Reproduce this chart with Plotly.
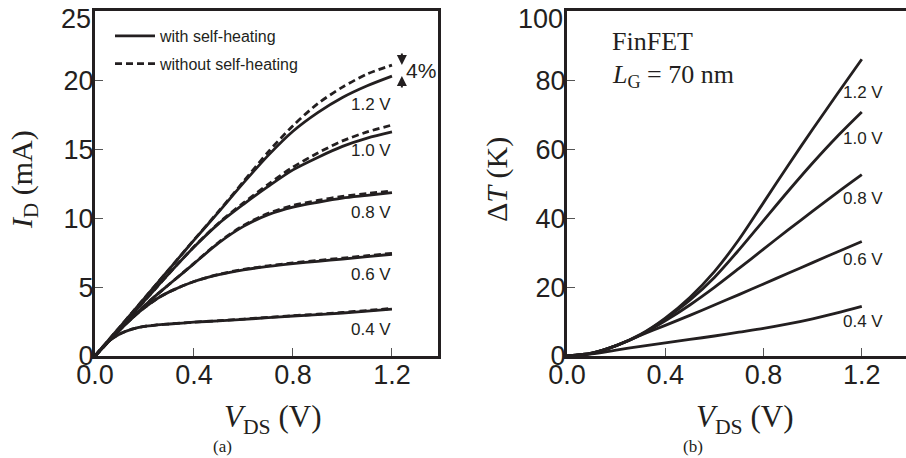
import plotly.graph_objects as go

# ---------------- data ----------------
# (a) drain current vs drain voltage, for several gate voltages
vds_a = [0, 0.05, 0.1, 0.15, 0.2, 0.25, 0.3, 0.4, 0.5, 0.6, 0.7, 0.8, 0.9, 1.0, 1.1, 1.2]
vgs_labels = ["0.4 V", "0.6 V", "0.8 V", "1.0 V", "1.2 V"]

id_with_sh = [
    [0, 1.0, 1.6, 1.95, 2.15, 2.25, 2.32, 2.45, 2.55, 2.66, 2.78, 2.9, 3.0, 3.12, 3.26, 3.4],
    [0, 0.95, 1.9, 2.75, 3.5, 4.15, 4.65, 5.4, 5.9, 6.25, 6.5, 6.7, 6.87, 7.03, 7.2, 7.38],
    [0, 0.95, 1.88, 2.78, 3.65, 4.45, 5.2, 6.7, 8.2, 9.4, 10.25, 10.8, 11.15, 11.45, 11.65, 11.85],
    [0, 1.0, 2.0, 3.0, 4.0, 5.0, 6.0, 7.9, 9.6, 11.0, 12.3, 13.5, 14.4, 15.2, 15.8, 16.25],
    [0, 1.05, 2.1, 3.15, 4.2, 5.25, 6.3, 8.4, 10.45, 12.55, 14.55, 16.3, 17.65, 18.75, 19.6, 20.3],
]
id_without_sh = [
    [0, 1.0, 1.6, 1.95, 2.15, 2.25, 2.32, 2.46, 2.56, 2.68, 2.8, 2.92, 3.03, 3.16, 3.3, 3.45],
    [0, 0.95, 1.9, 2.75, 3.5, 4.15, 4.65, 5.4, 5.92, 6.28, 6.54, 6.75, 6.93, 7.1, 7.27, 7.45],
    [0, 0.95, 1.88, 2.78, 3.65, 4.45, 5.2, 6.72, 8.25, 9.47, 10.35, 10.92, 11.28, 11.58, 11.78, 11.97],
    [0, 1.0, 2.0, 3.0, 4.0, 5.0, 6.0, 7.92, 9.65, 11.1, 12.45, 13.7, 14.72, 15.6, 16.25, 16.75],
    [0, 1.05, 2.1, 3.15, 4.2, 5.25, 6.3, 8.42, 10.5, 12.65, 14.8, 16.7, 18.3, 19.5, 20.45, 21.1],
]

# (b) temperature rise vs drain voltage
vds_b = [0, 0.1, 0.2, 0.3, 0.4, 0.5, 0.6, 0.7, 0.8, 0.9, 1.0, 1.1, 1.2]
delta_t = [
    [0, 0.6, 1.7, 2.8, 3.8, 4.8, 5.8, 6.9, 8.0, 9.3, 10.8, 12.5, 14.4],
    [0, 0.7, 3.0, 6.0, 8.9, 11.8, 14.8, 17.8, 20.9, 24.0, 27.1, 30.2, 33.2],
    [0, 0.8, 3.0, 6.1, 10.2, 14.8, 19.9, 25.4, 31.0, 36.6, 42.0, 47.4, 52.6],
    [0, 0.8, 3.0, 6.2, 10.8, 16.2, 22.8, 30.8, 39.3, 47.8, 56.0, 63.7, 70.8],
    [0, 0.8, 3.0, 6.3, 11.0, 17.0, 24.5, 33.8, 44.5, 55.3, 65.8, 76.0, 86.1],
]

x_ticks = [0.0, 0.4, 0.8, 1.2]
x_tick_text = ["0.0", "0.4", "0.8", "1.2"]
ya_ticks = [0, 5, 10, 15, 20, 25]
yb_ticks = [0, 20, 40, 60, 80, 100]

# ---------------- style ----------------
INK = "#231f20"
SANS = "Liberation Sans, Arial, sans-serif"
SERIF = "Liberation Serif, Times New Roman, serif"
W, H = 906, 458
LW = 2.8

fig = go.Figure()

for i, lab in enumerate(vgs_labels):
    fig.add_trace(go.Scatter(
        x=vds_a, y=id_without_sh[i], mode="lines",
        line=dict(color=INK, width=LW, dash="7px,4px", shape="spline", smoothing=0.8),
        name="without self-heating", legendgroup="nosh", showlegend=(i == 0),
        xaxis="x", yaxis="y", legendrank=2,
    ))
    fig.add_trace(go.Scatter(
        x=vds_a, y=id_with_sh[i], mode="lines",
        line=dict(color=INK, width=LW, shape="spline", smoothing=0.8),
        name="with self-heating", legendgroup="sh", showlegend=(i == 0),
        xaxis="x", yaxis="y", legendrank=1,
    ))

for i, lab in enumerate(vgs_labels):
    fig.add_trace(go.Scatter(
        x=vds_b, y=delta_t[i], mode="lines",
        line=dict(color=INK, width=LW, shape="spline", smoothing=0.8),
        showlegend=False, xaxis="x2", yaxis="y2",
    ))

annotations = []
# curve labels, panel (a)
shift_a = [-20, -20, -20, -19, -28]
for i, lab in enumerate(vgs_labels):
    annotations.append(dict(
        x=vds_a[-1], y=id_with_sh[i][-1], xref="x", yref="y", text=lab,
        showarrow=False, xanchor="right", yanchor="middle", xshift=1, yshift=shift_a[i],
        font=dict(family=SANS, size=17, color=INK),
    ))
# curve labels, panel (b)
shift_b = [-15, -18, -24, -27, -33]
for i, lab in enumerate(vgs_labels):
    annotations.append(dict(
        x=vds_b[-1], y=delta_t[i][-1], xref="x2", yref="y2", text=lab,
        showarrow=False, xanchor="center", yanchor="middle", xshift=1, yshift=shift_b[i],
        font=dict(family=SANS, size=17, color=INK),
    ))

# 4 % gap marker between the two 1.2 V curves
gap_x = 1.24
annotations += [
    dict(x=gap_x, y=id_without_sh[4][-1], xref="x", yref="y", ax=0, ay=-13,
         showarrow=True, arrowhead=2, arrowsize=1, arrowwidth=2, arrowcolor=INK, text=""),
    dict(x=gap_x, y=id_with_sh[4][-1], xref="x", yref="y", ax=0, ay=13,
         showarrow=True, arrowhead=2, arrowsize=1, arrowwidth=2, arrowcolor=INK, text=""),
    dict(x=gap_x, y=(id_with_sh[4][-1] + id_without_sh[4][-1]) / 2, xref="x", yref="y",
         text="4%", showarrow=False, xanchor="left", yanchor="middle", xshift=2,
         font=dict(family=SANS, size=21, color=INK)),
]

# top tick labels sit just inside the frame
TICKFONT = dict(family=SANS, size=27, color=INK)
annotations += [
    dict(x=0, y=ya_ticks[-1], xref="x", yref="y", text=str(ya_ticks[-1]), showarrow=False,
         xanchor="right", yanchor="middle", xshift=-2, yshift=-8, font=TICKFONT),
    dict(x=0, y=yb_ticks[-1], xref="x2", yref="y2", text=str(yb_ticks[-1]), showarrow=False,
         xanchor="right", yanchor="middle", xshift=-2, yshift=-8, font=TICKFONT),
]

def px(x):
    return x / W

def py(y):
    return 1 - y / H

def paper_text(x, y, text, size, angle=0, xanchor="center"):
    return dict(x=px(x), y=py(y), xref="paper", yref="paper", text=text,
                showarrow=False, textangle=angle, xanchor=xanchor, yanchor="middle",
                font=dict(family=SERIF, size=size, color=INK))

# axis titles, panel tags and device note
annotations += [
    paper_text(24, 180, "<i>I</i><sub>D</sub> (mA)", 30, angle=-90),
    paper_text(497, 180, "Δ<i>T</i> (K)", 30, angle=-90),
    paper_text(272, 419, "<i>V</i><sub>DS</sub> (V)", 31),
    paper_text(744, 419, "<i>V</i><sub>DS</sub> (V)", 31),
    paper_text(222, 446, "(a)", 17),
    paper_text(693, 446, "(b)", 17),
    paper_text(610, 42, "FinFET", 26, xanchor="left"),
    paper_text(610, 76, "<i>L</i><sub>G</sub> = 70 nm", 26, xanchor="left"),
]

axis_common = dict(
    showline=True, linecolor=INK, linewidth=3, showgrid=False, zeroline=False,
    ticks="inside", ticklen=8, tickwidth=1.3, tickcolor="#555555",
    tickfont=TICKFONT, automargin=False, ticklabelstandoff=-7,
)

top_y, bottom_y = 11, 356
fig.update_layout(
    width=W, height=H,
    margin=dict(l=0, r=0, t=0, b=0, autoexpand=False),
    paper_bgcolor="white", plot_bgcolor="white",
    xaxis=dict(domain=[px(95), px(438)], range=[0, 1.386], anchor="y",
               tickvals=x_ticks, ticktext=x_tick_text, mirror=True, **axis_common),
    yaxis=dict(domain=[py(bottom_y), py(top_y)], range=[0, 25.02], anchor="x",
               tickvals=ya_ticks, ticktext=[str(v) for v in ya_ticks[:-1]] + [""],
               mirror=True, **axis_common),
    xaxis2=dict(domain=[px(567), 1.0], range=[0, 1.38], anchor="y2",
                tickvals=x_ticks, ticktext=x_tick_text, mirror=True, **axis_common),
    yaxis2=dict(domain=[py(bottom_y), py(top_y)], range=[0, 100.1], anchor="x2",
                tickvals=yb_ticks, ticktext=[str(v) for v in yb_ticks[:-1]] + [""],
                mirror=False, **axis_common),
    showlegend=True,
    legend=dict(x=px(110), y=py(19), xanchor="left", yanchor="top",
                bgcolor="rgba(0,0,0,0)", borderwidth=0,
                font=dict(family=SANS, size=16, color=INK),
                tracegroupgap=4, itemwidth=40, traceorder="grouped"),
    annotations=annotations,
)

fig.write_html("out.html")
